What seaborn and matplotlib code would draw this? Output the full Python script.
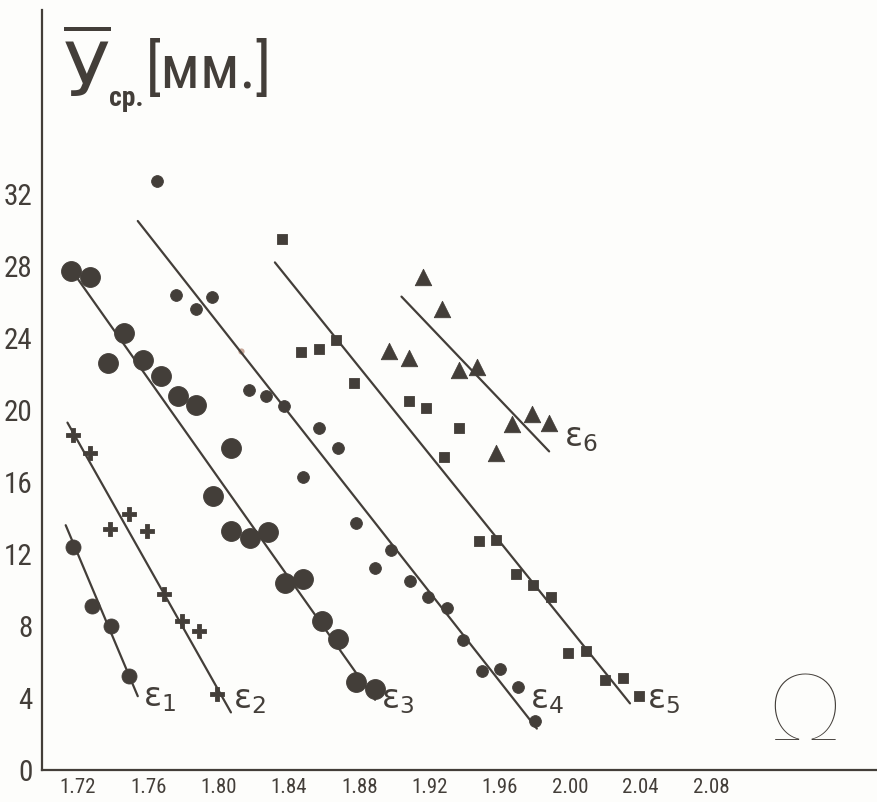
import numpy as np
import pandas as pd
import seaborn as sns
import matplotlib.pyplot as plt
from matplotlib import font_manager

# Omega on x, mean y [mm] on y
e1_x = [1.717, 1.728, 1.739, 1.749]
e1_y = [12.4, 9.1, 8.0, 5.2]

e2_x = [1.717, 1.727, 1.738, 1.749, 1.759, 1.769, 1.779, 1.789, 1.799]
e2_y = [18.6, 17.6, 13.4, 14.2, 13.3, 9.8, 8.3, 7.7, 4.2]

e3_x = [1.716, 1.727, 1.737, 1.746, 1.757, 1.767, 1.777, 1.787, 1.797, 1.807,
        1.807, 1.818, 1.828, 1.838, 1.848, 1.859, 1.868, 1.878, 1.889]
e3_y = [27.7, 27.4, 22.6, 24.3, 22.8, 21.9, 20.8, 20.3, 15.2, 17.9,
        13.3, 12.9, 13.2, 10.4, 10.6, 8.3, 7.3, 4.9, 4.5]

e4_x = [1.765, 1.776, 1.787, 1.796, 1.817, 1.827, 1.837, 1.848, 1.857, 1.868, 1.878,
        1.889, 1.898, 1.909, 1.919, 1.930, 1.939, 1.950, 1.960, 1.970, 1.980]
e4_y = [32.7, 26.4, 25.6, 26.3, 21.1, 20.8, 20.2, 16.3, 19.0, 17.9, 13.7,
        11.2, 12.2, 10.5, 9.6, 9.0, 7.2, 5.5, 5.6, 4.6, 2.7]

e5_x = [1.836, 1.847, 1.857, 1.867, 1.877, 1.908, 1.918, 1.928, 1.937, 1.948,
        1.958, 1.969, 1.979, 1.989, 1.999, 2.009, 2.020, 2.030, 2.039]
e5_y = [29.5, 23.2, 23.4, 23.9, 21.5, 20.5, 20.1, 17.4, 19.0, 12.7,
        12.8, 10.9, 10.3, 9.6, 6.5, 6.6, 5.0, 5.1, 4.1]

e6_x = [1.897, 1.908, 1.916, 1.927, 1.937, 1.947, 1.958, 1.967, 1.978, 1.988]
e6_y = [23.3, 22.9, 27.4, 25.6, 22.2, 22.4, 17.6, 19.2, 19.8, 19.3]

faint_x = [1.813]
faint_y = [23.3]

# ends of the drawn straight lines
line_x = {"e1": [1.713, 1.754], "e2": [1.714, 1.807], "e3": [1.719, 1.889],
          "e4": [1.754, 1.981], "e5": [1.832, 2.034], "e6": [1.904, 1.988]}
line_y = {"e1": [13.6, 4.1], "e2": [19.3, 3.2], "e3": [27.4, 3.9],
          "e4": [30.5, 2.3], "e5": [28.2, 3.7], "e6": [26.3, 17.7]}

label_x = {"e1": 1.7666, "e2": 1.8178, "e3": 1.902, "e4": 1.9868, "e5": 2.0533, "e6": 2.0061}
label_y = {"e1": 4.0, "e2": 3.9, "e3": 3.9, "e4": 3.9, "e5": 3.9, "e6": 18.5}

x_ticks = [1.72, 1.76, 1.80, 1.84, 1.88, 1.92, 1.96, 2.00, 2.04, 2.08]
y_ticks = [0, 4, 8, 12, 16, 20, 24, 28, 32]

ink = "#433e39"

sns.set_style("white")
plt.rcParams["font.family"] = ["DejaVu Sans"]
plt.rcParams["mathtext.fontset"] = "dejavusans"

# narrow face for the stencil-like numbers, if there is one
names = {f.name for f in font_manager.fontManager.ttflist}
narrow = ["DejaVu Sans"]
for cand in ["Liberation Sans Narrow", "DejaVu Sans Condensed", "Roboto Condensed"]:
    if cand in names:
        narrow = [cand, "DejaVu Sans"]
        break

fig = plt.figure(figsize=(8.78, 8.02), dpi=100, facecolor="#fdfdfb")
ax = fig.add_axes([42 / 878, 32 / 802, 836 / 878, 760 / 802])
ax.set_facecolor("#fdfdfb")

series = [
    ("e1", e1_x, e1_y, "o", 117),
    ("e2", e2_x, e2_y, "P", 95),
    ("e3", e3_x, e3_y, "o", 205),
    ("e4", e4_x, e4_y, "o", 72),
    ("e5", e5_x, e5_y, "s", 60),
    ("e6", e6_x, e6_y, "^", 140),
]

for name, xs, ys, mk, sz in series:
    df = pd.DataFrame({"x": xs, "y": ys})
    sns.scatterplot(data=df, x="x", y="y", marker=mk, s=sz, color=ink,
                    edgecolor=ink, linewidth=0.6, ax=ax, zorder=3)
    sns.lineplot(x=line_x[name], y=line_y[name], color=ink, linewidth=1.6,
                 ax=ax, zorder=2)
    ax.text(label_x[name], label_y[name], r"$\mathrm{ε}_{%s}$" % name[1],
            fontsize=24, color=ink, ha="center", va="center")

sns.scatterplot(x=faint_x, y=faint_y, s=20, color="#c9a99a", linewidth=0, ax=ax)

ax.set_xlim(1.72 - 36 / 1758, 1.72 + 800 / 1758)
ax.set_ylim(0, 760 / 18)

ax.set_xticks(x_ticks)
ax.set_xticklabels([f"{v:.2f}" for v in x_ticks])
ax.set_xticks(np.arange(1.74, 2.07, 0.04), minor=True)
ax.set_yticks(y_ticks)
ax.set_yticklabels([str(v) for v in y_ticks])
ax.set_yticks(np.arange(2, 31, 4), minor=True)

ax.tick_params(which="both", direction="inout", color=ink, width=1.0)
ax.tick_params(which="major", length=6)
ax.tick_params(which="minor", length=5)
ax.tick_params(axis="x", pad=3, labelsize=15, labelcolor=ink)
ax.tick_params(axis="y", pad=4, labelsize=21, labelcolor=ink)
for lab in ax.get_xticklabels() + ax.get_yticklabels():
    lab.set_family(narrow)

ax.set_xlabel("")
ax.set_ylabel("")
sns.despine(ax=ax)
for side in ["left", "bottom"]:
    ax.spines[side].set_color(ink)
    ax.spines[side].set_linewidth(1.6)

# axis captions
ax.text(2.1335, 3.1, "Ω", fontsize=68, color=ink, ha="center", va="center",
        family=["Lato", "DejaVu Sans"], fontweight="light")
fig.text(63 / 878, 1 - 97 / 802, r"$\overline{\mathrm{У}}$", fontsize=54,
         color=ink, ha="left", va="baseline")
fig.text(109 / 878, 1 - 106 / 802, "ср.", fontsize=20, color=ink,
         ha="left", va="baseline", fontweight="bold", family=narrow)
fig.text(146 / 878, 1 - 88 / 802, "[мм.]", fontsize=44, color=ink,
         ha="left", va="baseline", family=narrow)

fig.savefig("out.png", dpi=100, facecolor=fig.get_facecolor())
